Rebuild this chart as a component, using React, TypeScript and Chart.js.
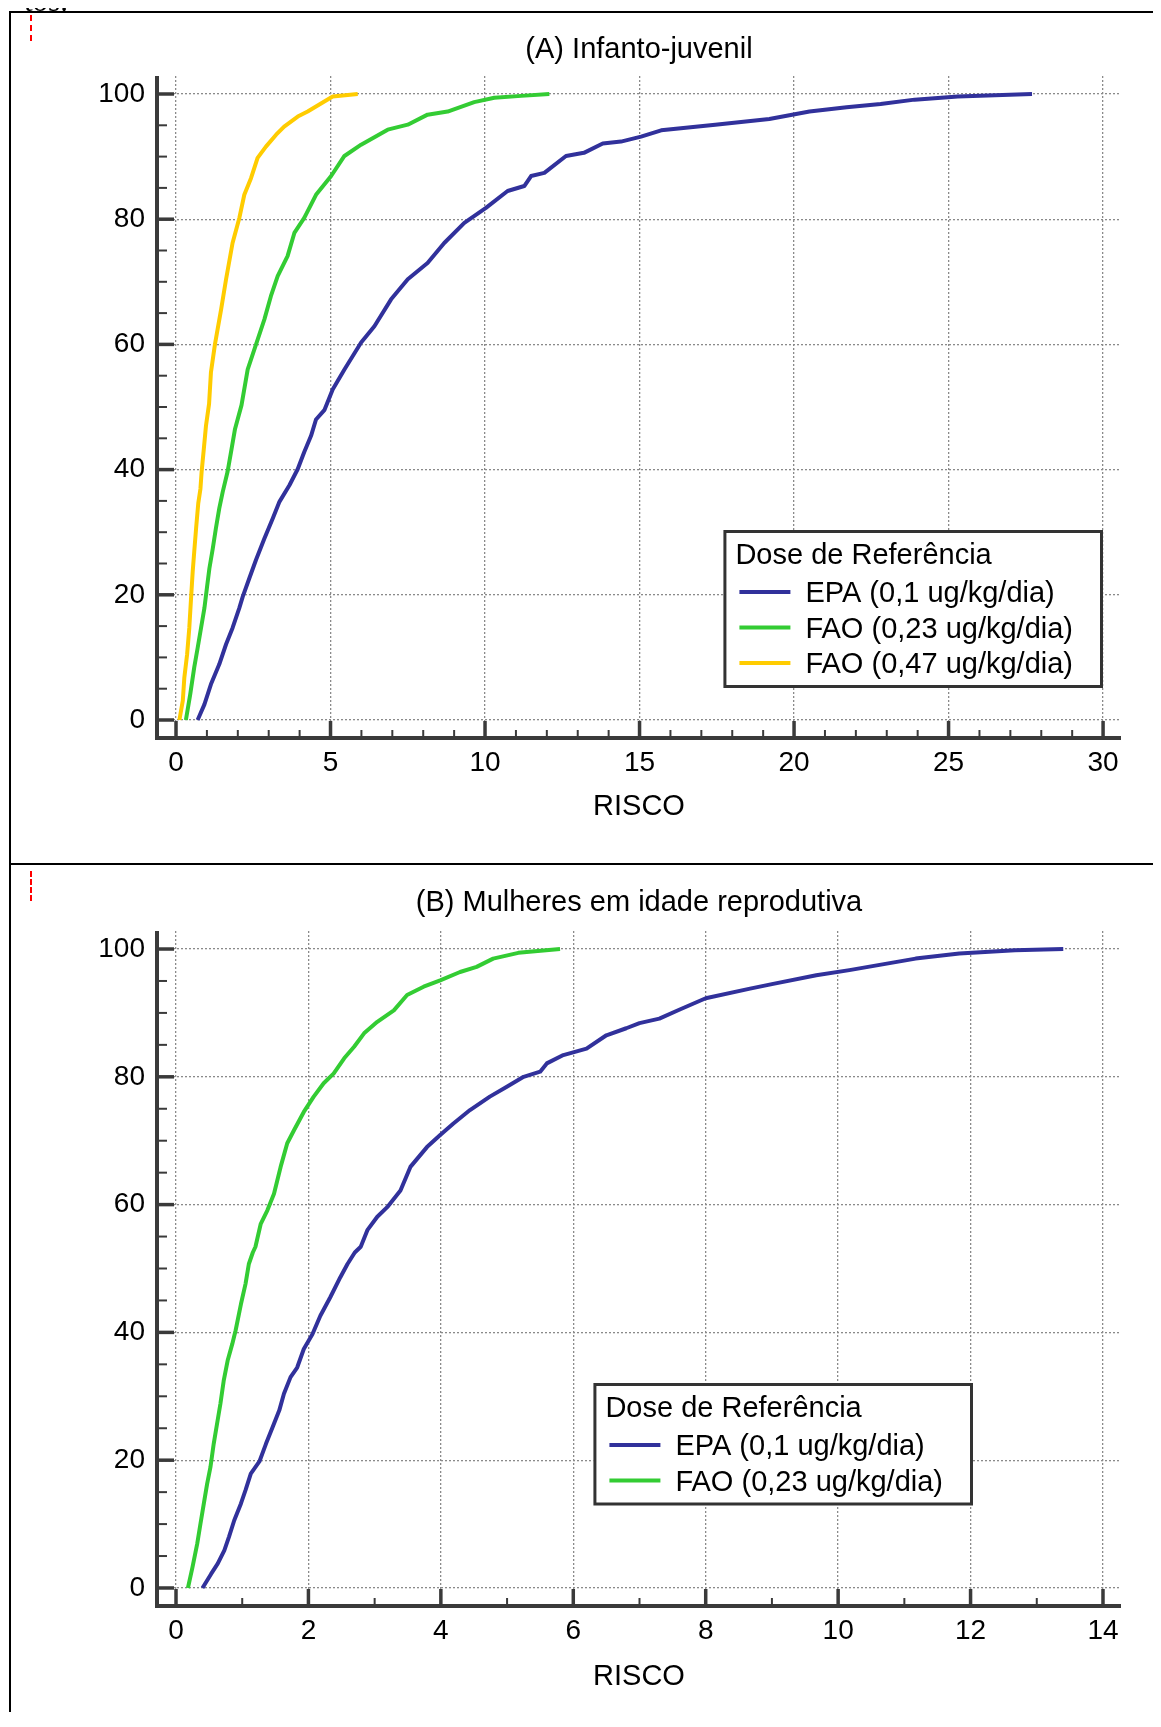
import React, { useEffect, useRef } from 'react';
import { Chart, registerables } from 'chart.js';

Chart.register(...registerables);

const FONT = "'Liberation Sans', Arial, Helvetica, sans-serif";
const AXIS_COLOR = '#3a3a3a';

// ---------- text ----------
const titleA = '(A) Infanto-juvenil';
const titleB = '(B) Mulheres em idade reprodutiva';
const xAxisTitle = 'RISCO';
const legendTitle = 'Dose de Referência';
const seriesLabels = ['EPA (0,1 ug/kg/dia)', 'FAO (0,23 ug/kg/dia)', 'FAO (0,47 ug/kg/dia)'];
const seriesColors = ['#31319b', '#33cc33', '#ffcc00'];

// ---------- ticks ----------
const xTicksA = [0, 5, 10, 15, 20, 25, 30];
const xTicksB = [0, 2, 4, 6, 8, 10, 12, 14];
const yTicks = [0, 20, 40, 60, 80, 100];

// ---------- (A) Infanto-juvenil ----------
const epaAx = [0.7, 0.92, 1.13, 1.4, 1.62, 1.83, 2.05, 2.16, 2.37, 2.59, 2.86, 3.13, 3.34, 3.67, 3.94, 4.15, 4.37, 4.53, 4.8, 5.07, 5.45, 5.99, 6.42, 6.96, 7.5, 8.14, 8.68, 9.33, 10.03, 10.73, 11.27, 11.49, 11.92, 12.62, 13.2, 13.81, 14.4, 15.05, 15.7, 17.45, 19.2, 20.5, 21.7, 22.8, 23.9, 25.3, 27.7];
const epaAy = [0, 2.5, 5.7, 8.9, 12.1, 14.7, 17.9, 19.7, 22.6, 25.6, 29, 32.2, 34.8, 37.5, 40.1, 42.8, 45.4, 48, 49.5, 52.8, 56, 60.3, 62.9, 67.2, 70.4, 73, 76.2, 79.4, 81.8, 84.5, 85.3, 86.9, 87.4, 90.1, 90.6, 92.1, 92.4, 93.2, 94.2, 95.1, 96, 97.2, 97.9, 98.4, 99.1, 99.6, 100];

const fao23Ax = [0.32, 0.46, 0.59, 0.7, 0.81, 0.92, 1.0, 1.08, 1.19, 1.29, 1.4, 1.51, 1.67, 1.78, 1.91, 2.12, 2.32, 2.59, 2.86, 3.07, 3.29, 3.61, 3.83, 4.15, 4.53, 5.02, 5.45, 5.99, 6.85, 7.5, 8.14, 8.79, 9.65, 10.3, 11.17, 12.08];
const fao23Ay = [0, 4.1, 8.4, 11.5, 14.7, 17.9, 21.1, 24.2, 27.4, 30.6, 33.8, 36.4, 39.7, 42.8, 46.5, 50.3, 56, 60, 64, 67.7, 70.9, 74.1, 77.8, 80.2, 83.9, 86.9, 90.1, 91.9, 94.3, 95.1, 96.7, 97.2, 98.7, 99.4, 99.7, 100];

const fao47Ax = [0.11, 0.22, 0.27, 0.36, 0.43, 0.49, 0.54, 0.59, 0.65, 0.72, 0.79, 0.83, 0.9, 0.97, 1.07, 1.13, 1.26, 1.46, 1.62, 1.83, 2.05, 2.21, 2.43, 2.64, 2.91, 3.24, 3.5, 3.94, 4.26, 4.8, 5.07, 5.88];
const fao47Ay = [0, 3.1, 6.8, 10.5, 14.7, 19.7, 23.7, 26.9, 30.6, 34.6, 36.9, 39.7, 43.3, 47, 50.5, 55.5, 60, 65.6, 70.4, 76.2, 80.2, 83.9, 86.6, 89.8, 91.6, 93.5, 94.8, 96.4, 97.2, 98.8, 99.6, 100];

// ---------- (B) Mulheres em idade reprodutiva ----------
const epaBx = [0.4, 0.53, 0.63, 0.73, 0.8, 0.88, 0.98, 1.05, 1.13, 1.26, 1.36, 1.46, 1.56, 1.63, 1.73, 1.83, 1.93, 2.06, 2.18, 2.33, 2.48, 2.59, 2.7, 2.79, 2.89, 3.04, 3.19, 3.39, 3.54, 3.79, 3.99, 4.19, 4.44, 4.74, 4.99, 5.25, 5.5, 5.6, 5.85, 6.2, 6.5, 6.8, 7.0, 7.3, 7.6, 8.0, 8.67, 9.0, 9.67, 10.17, 10.67, 11.17, 11.83, 12.67, 13.4];
const epaBy = [0, 2.2, 3.8, 5.9, 8.0, 10.6, 13.2, 15.3, 17.9, 19.8, 22.6, 25.2, 27.8, 30.4, 33, 34.5, 37.4, 39.7, 42.6, 45.5, 48.6, 50.7, 52.5, 53.4, 56, 58.1, 59.6, 62.2, 65.9, 69, 70.9, 72.7, 74.8, 76.9, 78.4, 80, 80.8, 82.1, 83.4, 84.4, 86.5, 87.6, 88.4, 89.1, 90.5, 92.3, 93.8, 94.5, 95.9, 96.7, 97.6, 98.5, 99.3, 99.8, 100];

const fao23Bx = [0.18, 0.25, 0.32, 0.37, 0.42, 0.47, 0.52, 0.57, 0.62, 0.67, 0.72, 0.78, 0.85, 0.9, 0.98, 1.05, 1.1, 1.16, 1.2, 1.28, 1.38, 1.48, 1.58, 1.68, 1.78, 1.93, 2.08, 2.23, 2.38, 2.54, 2.69, 2.84, 3.04, 3.29, 3.49, 3.74, 3.99, 4.29, 4.54, 4.79, 5.17, 5.8];
const fao23By = [0, 3.3, 6.9, 10.1, 13.2, 16.3, 18.9, 22.6, 25.7, 28.8, 32.4, 35.6, 38.2, 40.3, 44.4, 47.6, 50.7, 52.5, 53.4, 57, 59.1, 61.7, 65.9, 69.6, 71.6, 74.5, 76.9, 79, 80.5, 82.9, 84.7, 86.8, 88.6, 90.4, 92.8, 94.1, 95.1, 96.4, 97.2, 98.5, 99.4, 100];

type Pt = { x: number; y: number };
const zip = (xs: number[], ys: number[]): Pt[] => xs.map((x, i) => ({ x, y: ys[i] }));

interface FrameCfg {
  xMinor: number;
  yMinor: number;
  legendRightInset: number;
  legendTopOffset: number;
}

const makeFramePlugin = (cfg: FrameCfg) => ({
  id: 'frame',
  afterDraw(chart: any) {
    const { ctx, chartArea: ca, scales } = chart;
    const xs = scales.x;
    const ys = scales.y;
    const xMajor: number[] = xs.ticks.map((t: any) => t.value);
    const yMajor: number[] = ys.ticks.map((t: any) => t.value);
    ctx.save();
    ctx.strokeStyle = AXIS_COLOR;
    ctx.lineCap = 'butt';

    // minor x ticks
    ctx.lineWidth = 2;
    for (let v = Math.ceil(xs.min / cfg.xMinor) * cfg.xMinor; v <= xs.max; v += cfg.xMinor) {
      if (xMajor.some((m) => Math.abs(m - v) < 1e-6)) continue;
      const px = xs.getPixelForValue(v);
      ctx.beginPath();
      ctx.moveTo(px, ca.bottom);
      ctx.lineTo(px, ca.bottom - 8);
      ctx.stroke();
    }
    // minor y ticks
    for (let v = Math.ceil(ys.min / cfg.yMinor) * cfg.yMinor; v <= ys.max; v += cfg.yMinor) {
      if (yMajor.some((m) => Math.abs(m - v) < 1e-6)) continue;
      const py = ys.getPixelForValue(v);
      ctx.beginPath();
      ctx.moveTo(ca.left, py);
      ctx.lineTo(ca.left + 10, py);
      ctx.stroke();
    }
    // major ticks
    ctx.lineWidth = 3.5;
    xMajor.forEach((v) => {
      const px = xs.getPixelForValue(v);
      ctx.beginPath();
      ctx.moveTo(px, ca.bottom);
      ctx.lineTo(px, ca.bottom - 17);
      ctx.stroke();
    });
    yMajor.forEach((v) => {
      const py = ys.getPixelForValue(v);
      ctx.beginPath();
      ctx.moveTo(ca.left, py);
      ctx.lineTo(ca.left + 17, py);
      ctx.stroke();
    });
    // axis lines
    ctx.lineWidth = 4;
    ctx.beginPath();
    ctx.moveTo(ca.left, ca.top);
    ctx.lineTo(ca.left, ca.bottom + 2);
    ctx.stroke();
    ctx.beginPath();
    ctx.moveTo(ca.left - 2, ca.bottom);
    ctx.lineTo(ca.right, ca.bottom);
    ctx.stroke();

    // legend
    const ds = chart.data.datasets;
    ctx.font = `29px ${FONT}`;
    let maxW = ctx.measureText(legendTitle).width - 70;
    ds.forEach((d: any) => {
      maxW = Math.max(maxW, ctx.measureText(d.label).width);
    });
    const w = 82 + maxW + 30;
    const rowH = 35.5;
    const h = 62 + (ds.length - 1) * rowH + 25;
    const x0 = ca.right - cfg.legendRightInset - w;
    const y0 = ca.top + cfg.legendTopOffset;
    ctx.fillStyle = '#ffffff';
    ctx.fillRect(x0, y0, w, h);
    ctx.lineWidth = 3;
    ctx.strokeStyle = '#333333';
    ctx.strokeRect(x0 + 1.5, y0 + 1.5, w - 3, h - 3);
    ctx.fillStyle = '#000000';
    ctx.textAlign = 'left';
    ctx.textBaseline = 'alphabetic';
    ctx.fillText(legendTitle, x0 + 12, y0 + 33.5);
    ds.forEach((d: any, i: number) => {
      const cy = y0 + 62 + i * rowH;
      ctx.strokeStyle = d.borderColor;
      ctx.lineWidth = 4;
      ctx.beginPath();
      ctx.moveTo(x0 + 16, cy);
      ctx.lineTo(x0 + 67, cy);
      ctx.stroke();
      ctx.fillStyle = '#000000';
      ctx.fillText(d.label, x0 + 82, cy + 10.4);
    });
    ctx.restore();
  },
});

interface PanelProps {
  title: string;
  series: { label: string; color: string; data: Pt[] }[];
  xTicks: number[];
  xMin: number;
  xMax: number;
  yMin: number;
  yMax: number;
  height: number;
  areaTop: number;
  areaBottom: number;
  titleCenter: number;
  xTitleCenter: number;
  frame: FrameCfg;
}

const CANVAS_W = 1161;
const AREA_LEFT = 157;
const AREA_RIGHT = 1121;

function Panel(p: PanelProps) {
  const ref = useRef<HTMLCanvasElement | null>(null);
  useEffect(() => {
    if (!ref.current) return;
    const lh = 29 * 1.2;
    const titlePadTop = p.titleCenter - lh / 2;
    const titlePadBottom = p.areaTop - titlePadTop - lh;
    const xScaleH = p.height - p.areaBottom;
    const xTitlePadBottom = p.height - p.xTitleCenter - lh / 2;
    const chart = new Chart(ref.current, {
      type: 'line',
      data: {
        datasets: p.series.map((s) => ({
          label: s.label,
          data: s.data,
          borderColor: s.color,
          backgroundColor: s.color,
          borderWidth: 4,
          pointRadius: 0,
          fill: false,
          tension: 0,
          borderJoinStyle: 'round' as const,
        })),
      },
      options: {
        animation: false,
        responsive: false,
        devicePixelRatio: 1,
        layout: { padding: { left: 0, right: CANVAS_W - AREA_RIGHT, top: 0, bottom: 0 } },
        plugins: {
          legend: { display: false },
          tooltip: { enabled: false },
          title: {
            display: true,
            text: p.title,
            fullSize: false,
            color: '#000',
            font: { family: FONT, size: 29, weight: 'normal' as any },
            padding: { top: titlePadTop, bottom: titlePadBottom },
          },
        },
        scales: {
          x: {
            type: 'linear',
            min: p.xMin,
            max: p.xMax,
            bounds: 'ticks',
            afterBuildTicks: (scale: any) => {
              scale.ticks = p.xTicks.map((v) => ({ value: v }));
            },
            afterFit: (scale: any) => {
              scale.height = xScaleH;
            },
            ticks: {
              autoSkip: false,
              maxRotation: 0,
              padding: 8,
              color: '#000',
              font: { family: FONT, size: 28 },
            },
            grid: { color: '#8a8a8a', lineWidth: 1.3, drawTicks: false },
            border: { display: false, dash: [2, 2] },
            title: {
              display: true,
              text: xAxisTitle,
              color: '#000',
              font: { family: FONT, size: 29 },
              padding: { top: 0, bottom: xTitlePadBottom },
            },
          },
          y: {
            type: 'linear',
            min: p.yMin,
            max: p.yMax,
            afterBuildTicks: (scale: any) => {
              scale.ticks = yTicks.map((v) => ({ value: v }));
            },
            afterFit: (scale: any) => {
              scale.width = AREA_LEFT;
            },
            ticks: {
              autoSkip: false,
              padding: 12,
              color: '#000',
              font: { family: FONT, size: 28 },
            },
            grid: { color: '#8a8a8a', lineWidth: 1.3, drawTicks: false },
            border: { display: false, dash: [2, 2] },
          },
        },
      },
      plugins: [makeFramePlugin(p.frame)],
    } as any);
    return () => chart.destroy();
  }, []);
  return (
    <canvas
      ref={ref}
      width={CANVAS_W}
      height={p.height}
      style={{ display: 'block', width: CANVAS_W, height: p.height }}
    />
  );
}

export default function App() {
  const seriesA = [
    { label: seriesLabels[0], color: seriesColors[0], data: zip(epaAx, epaAy) },
    { label: seriesLabels[1], color: seriesColors[1], data: zip(fao23Ax, fao23Ay) },
    { label: seriesLabels[2], color: seriesColors[2], data: zip(fao47Ax, fao47Ay) },
  ];
  const seriesB = [
    { label: seriesLabels[0], color: seriesColors[0], data: zip(epaBx, epaBy) },
    { label: seriesLabels[1], color: seriesColors[1], data: zip(fao23Bx, fao23By) },
  ];
  return (
    <div
      style={{
        position: 'relative',
        width: 1161,
        height: 1720,
        margin: -8,
        overflow: 'hidden',
        background: '#fff',
      }}
    >
      <span
        style={{
          position: 'absolute',
          left: 24,
          top: -14,
          display: 'block',
          fontFamily: "'Liberation Serif', 'Times New Roman', serif",
          fontSize: 31,
          lineHeight: '30px',
          color: '#000',
          whiteSpace: 'nowrap',
          zIndex: 5,
        }}
      >
        tos.
      </span>
      {/* table borders */}
      <div style={{ position: 'absolute', left: 9, top: 11, width: 1152, height: 2, background: '#000', zIndex: 6 }} />
      <div style={{ position: 'absolute', left: 9, top: 11, width: 2, height: 1716, background: '#000' }} />
      <div style={{ position: 'absolute', left: 9, top: 863, width: 1152, height: 2, background: '#000' }} />
      {/* red markers */}
      <div style={{ position: 'absolute', left: 30, top: 15, height: 26, borderLeft: '2px dashed #ff0000' }} />
      <div style={{ position: 'absolute', left: 30, top: 871, height: 30, borderLeft: '2px dashed #ff0000' }} />

      <div style={{ position: 'absolute', left: 0, top: 14 }}>
        <Panel
          title={titleA}
          series={seriesA}
          xTicks={xTicksA}
          xMin={-0.615}
          xMax={30.58}
          yMin={-2.875}
          yMax={102.875}
          height={850}
          areaTop={62}
          areaBottom={724}
          titleCenter={36}
          xTitleCenter={793.4}
          frame={{ xMinor: 1, yMinor: 5, legendRightInset: 18, legendTopOffset: 454 }}
        />
      </div>
      <div style={{ position: 'absolute', left: 0, top: 866 }}>
        <Panel
          title={titleB}
          series={seriesB}
          xTicks={xTicksB}
          xMin={-0.287}
          xMax={14.272}
          yMin={-2.82}
          yMax={102.82}
          height={855}
          areaTop={65}
          areaBottom={740}
          titleCenter={37}
          xTitleCenter={810.5}
          frame={{ xMinor: 1, yMinor: 5, legendRightInset: 148, legendTopOffset: 452 }}
        />
      </div>
    </div>
  );
}
